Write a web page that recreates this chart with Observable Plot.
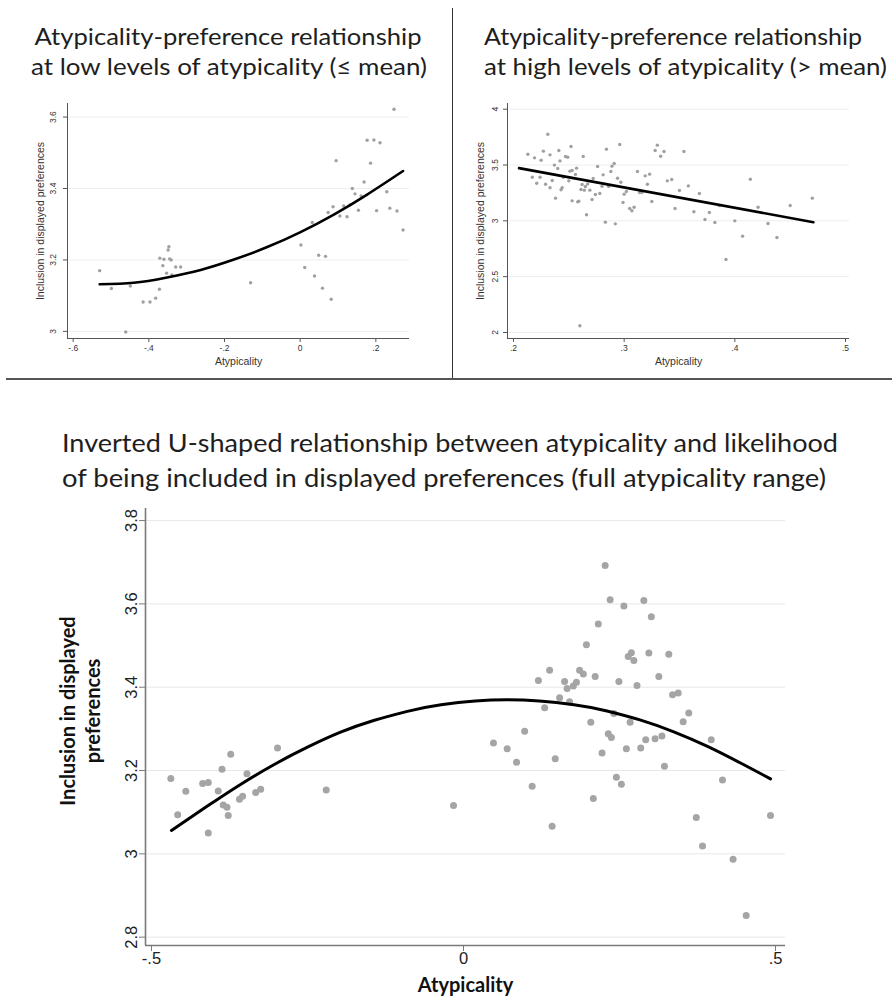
<!DOCTYPE html>
<html><head><meta charset="utf-8">
<script src="https://cdn.jsdelivr.net/npm/d3@7"></script>
<script src="https://cdn.jsdelivr.net/npm/@observablehq/plot@0.6"></script>
<style>
body{margin:0;background:#fff;}
#page{position:relative;width:892px;height:1002px;overflow:hidden;background:#fff;}
#page svg{position:absolute;}
</style></head><body><div id="page"></div>
<script>
// ---------- Panel 1: low atypicality (<= mean) ----------
const lowX = [-0.530,-0.499,-0.449,-0.461,-0.415,-0.397,-0.382,-0.372,-0.371,-0.363,-0.360,-0.353,-0.349,-0.347,-0.345,-0.341,-0.339,-0.329,-0.316,-0.131,0.002,0.012,0.032,0.038,0.049,0.059,0.067,0.074,0.082,0.087,0.095,0.105,0.115,0.124,0.131,0.138,0.145,0.154,0.161,0.169,0.177,0.186,0.195,0.202,0.211,0.229,0.237,0.248,0.256,0.272];
const lowY = [3.170,3.120,3.127,2.998,3.082,3.082,3.093,3.118,3.205,3.184,3.202,3.163,3.228,3.237,3.203,3.200,3.158,3.180,3.180,3.136,3.242,3.179,3.305,3.155,3.213,3.121,3.210,3.333,3.090,3.349,3.478,3.323,3.351,3.321,3.354,3.400,3.385,3.339,3.379,3.418,3.535,3.471,3.536,3.338,3.528,3.391,3.345,3.622,3.337,3.284];
const lowFitX = [-0.530,-0.440,-0.352,-0.263,-0.175,-0.087,0.001,0.089,0.177,0.272];
const lowFitY = [3.132,3.136,3.151,3.172,3.201,3.236,3.278,3.327,3.383,3.449];
const lowXTicks = [-0.6,-0.4,-0.2,0,0.2];
const lowXTickLabels = ["-.6","-.4","-.2","0",".2"];
const lowYTicks = [3,3.2,3.4,3.6];
const lowYTickLabels = ["3","3.2","3.4","3.6"];

// ---------- Panel 2: high atypicality (> mean) ----------
const highX = [0.213,0.217,0.219,0.221,0.224,0.225,0.227,0.229,0.231,0.233,0.233,0.235,0.237,0.238,0.240,0.241,0.242,0.243,0.244,0.245,0.247,0.249,0.250,0.251,0.252,0.253,0.253,0.256,0.257,0.258,0.259,0.260,0.261,0.262,0.263,0.264,0.265,0.266,0.267,0.269,0.271,0.272,0.274,0.276,0.278,0.280,0.281,0.283,0.284,0.286,0.288,0.289,0.291,0.292,0.294,0.296,0.297,0.299,0.300,0.302,0.305,0.307,0.309,0.312,0.314,0.316,0.319,0.321,0.323,0.325,0.328,0.330,0.333,0.336,0.339,0.343,0.346,0.350,0.354,0.358,0.363,0.368,0.373,0.377,0.382,0.386,0.392,0.400,0.407,0.414,0.421,0.430,0.438,0.450,0.470];
const highY = [3.597,3.391,3.564,3.337,3.391,3.543,3.624,3.328,3.776,3.591,3.296,3.361,3.499,3.203,3.469,3.630,3.537,3.278,3.296,3.391,3.576,3.570,3.358,3.445,3.666,3.179,3.451,3.415,3.472,3.170,3.176,2.060,3.281,3.325,3.576,3.275,3.307,3.054,3.331,3.275,3.191,3.379,3.236,3.487,3.245,3.310,3.412,2.988,3.642,3.307,3.442,3.490,3.513,2.973,3.382,3.684,3.346,3.164,3.239,3.263,3.110,3.090,3.122,3.442,3.254,3.254,3.403,3.328,3.418,3.173,3.630,3.678,3.579,3.621,3.358,3.370,3.110,3.272,3.621,3.313,3.081,3.245,3.012,3.075,2.985,3.137,2.654,3.000,2.863,3.373,3.122,2.976,2.851,3.137,3.203];
const highFitX = [0.205,0.471];
const highFitY = [3.472,2.988];
const highXTicks = [0.2,0.3,0.4,0.5];
const highXTickLabels = [".2",".3",".4",".5"];
const highYTicks = [2,2.5,3,3.5,4];
const highYTickLabels = ["2","2.5","3","3.5","4"];

// ---------- Panel 3: full range ----------
const fullX = [-0.469,-0.458,-0.445,-0.418,-0.409,-0.409,-0.393,-0.387,-0.385,-0.379,-0.377,-0.373,-0.359,-0.354,-0.347,-0.333,-0.325,-0.298,-0.220,-0.016,0.048,0.070,0.085,0.098,0.110,0.120,0.130,0.138,0.142,0.147,0.154,0.162,0.166,0.170,0.176,0.181,0.186,0.192,0.197,0.204,0.208,0.211,0.216,0.222,0.227,0.232,0.235,0.237,0.241,0.245,0.249,0.253,0.257,0.261,0.264,0.267,0.269,0.273,0.278,0.284,0.289,0.292,0.297,0.301,0.307,0.313,0.318,0.322,0.329,0.335,0.344,0.352,0.361,0.373,0.383,0.397,0.415,0.432,0.453,0.492];
const fullY = [3.181,3.094,3.150,3.169,3.171,3.050,3.151,3.203,3.117,3.112,3.092,3.239,3.131,3.138,3.192,3.147,3.155,3.254,3.153,3.116,3.266,3.252,3.220,3.294,3.162,3.416,3.351,3.441,3.066,3.228,3.375,3.414,3.397,3.365,3.403,3.412,3.441,3.432,3.502,3.316,3.133,3.426,3.552,3.242,3.692,3.288,3.610,3.279,3.337,3.184,3.414,3.167,3.595,3.252,3.474,3.316,3.483,3.464,3.404,3.254,3.608,3.274,3.482,3.569,3.276,3.426,3.283,3.210,3.479,3.382,3.386,3.317,3.338,3.087,3.019,3.274,3.177,2.987,2.852,3.092];
const fullFitX = [-0.468,-0.411,-0.358,-0.304,-0.250,-0.197,-0.144,-0.090,-0.036,0.070,0.177,0.230,0.284,0.337,0.391,0.444,0.492];
const fullFitY = [3.056,3.114,3.166,3.214,3.256,3.292,3.320,3.342,3.358,3.370,3.358,3.343,3.321,3.293,3.258,3.218,3.180];
const fullXTicks = [-0.5,0,0.5];
const fullXTickLabels = ["-.5","0",".5"];
const fullYTicks = [2.8,3,3.2,3.4,3.6,3.8];
const fullYTickLabels = ["2.8","3","3.2","3.4","3.6","3.8"];

// ---------- Texts ----------
const xAxisTitle = "Atypicality";
const yAxisTitle = "Inclusion in displayed preferences";
const yAxisTitleFull = "Inclusion in displayed\npreferences";
const titleLow = ["Atypicality-preference relationship", "at low levels of atypicality (\u2264 mean)"];
const titleHigh = ["Atypicality-preference relationship", "at high levels of atypicality (> mean)"];
const titleFull = ["Inverted U-shaped relationship between atypicality and likelihood", "of being included in displayed preferences (full atypicality range)"];

function makePanel(o) {
  const pts = o.xs.map((x, i) => ({x, y: o.ys[i]}));
  const fit = o.fx.map((x, i) => ({x, y: o.fy[i]}));
  const xl = new Map(o.xTicks.map((t, i) => [t, o.xTickLabels[i]]));
  const yl = new Map(o.yTicks.map((t, i) => [t, o.yTickLabels[i]]));
  const svg = Plot.plot({
    width: o.width, height: o.height,
    marginLeft: o.mL, marginRight: o.mR, marginTop: o.mT, marginBottom: o.mB,
    x: {domain: o.xDomain}, y: {domain: o.yDomain},
    style: {fontFamily: "'Liberation Sans', Arial, sans-serif", background: "transparent", overflow: "visible"},
    marks: [
      Plot.gridY(o.yTicks, {stroke: o.gridColor, strokeOpacity: 1, strokeWidth: 1}),
      Plot.dot(pts, {x: "x", y: "y", r: o.r, fill: o.dotColor}),
      Plot.line(fit, {x: "x", y: "y", curve: o.curve, stroke: "#000", strokeWidth: o.fitWidth}),
      Plot.ruleX([o.xDomain[0]], {stroke: o.axisColor, strokeWidth: o.axisWidth}),
      Plot.ruleY([o.yDomain[0]], {stroke: o.axisColor, strokeWidth: o.axisWidth}),
      Plot.axisX({ticks: o.xTicks, tickFormat: d => xl.get(d), tickSize: o.tickLen, tickPadding: o.xTickPad,
        fontSize: o.tickFont, stroke: o.axisColor, fill: o.tickColor, label: null}),
      Plot.axisY({ticks: o.yTicks, tickFormat: () => "", tickSize: o.tickLen, stroke: o.axisColor, label: null}),
      Plot.text(o.yTicks, {y: d => d, frameAnchor: "left", text: d => yl.get(d), rotate: -90, dx: o.yTickDx,
        textAnchor: "middle", lineAnchor: "middle", fontSize: o.tickFont, fill: o.tickColor}),
      Plot.text([o.xTitle], {frameAnchor: "bottom", text: d => d, dy: o.xTitleDy, lineAnchor: "middle",
        fontSize: o.titleFont, fontWeight: o.titleWeight, fontFamily: o.titleFamily, fill: o.titleColor}),
      Plot.text([o.yTitle], {frameAnchor: "left", text: d => d, dx: o.yTitleDx, dy: o.yTitleDy, rotate: -90,
        textAnchor: "middle", lineAnchor: "middle", lineHeight: o.yTitleLH,
        fontSize: o.titleFont, fontWeight: o.titleWeight, fontFamily: o.titleFamily, fill: o.titleColor})
    ]
  });
  svg.style.left = o.left + "px";
  svg.style.top = o.top + "px";
  return svg;
}

const page = document.getElementById("page");
const smallCommon = {
  width: 450, height: 290, mT: 13, mB: 42, r: 1.7, dotColor: "#a0a0a0", fitWidth: 2.6, curve: "natural",
  gridColor: "#eeeeee", axisColor: "#555", axisWidth: 1, tickLen: 4, xTickPad: 2, tickFont: 8.5, tickColor: "#333",
  xTitle: xAxisTitle, yTitle: yAxisTitle, titleFont: 10.5, titleWeight: "normal",
  titleFamily: "'Liberation Sans', Arial, sans-serif", titleColor: "#333",
  xTitleDy: 23, yTitleDx: -27, yTitleDy: 0, yTitleLH: 1
};
page.appendChild(makePanel({...smallCommon, left: 0, top: 90, mL: 67, mR: 41,
  xs: lowX, ys: lowY, fx: lowFitX, fy: lowFitY, xDomain: [-0.615, 0.289], yDomain: [2.98, 3.638],
  xTicks: lowXTicks, xTickLabels: lowXTickLabels, yTicks: lowYTicks, yTickLabels: lowYTickLabels, yTickDx: -14}));
page.appendChild(makePanel({...smallCommon, left: 452, top: 90, width: 440, mL: 55, mR: 43, curve: "linear",
  xs: highX, ys: highY, fx: highFitX, fy: highFitY, xDomain: [0.1946, 0.5036], yDomain: [1.946, 4.051],
  xTicks: highXTicks, xTickLabels: highXTickLabels, yTicks: highYTicks, yTickLabels: highYTickLabels, yTickDx: -12}));
page.appendChild(makePanel({left: 0, top: 490, width: 892, height: 512, mL: 145, mR: 107, mT: 18, mB: 57,
  xs: fullX, ys: fullY, fx: fullFitX, fy: fullFitY, xDomain: [-0.5096, 0.516], yDomain: [2.780, 3.829],
  xTicks: fullXTicks, xTickLabels: fullXTickLabels, yTicks: fullYTicks, yTickLabels: fullYTickLabels,
  r: 3.5, dotColor: "#a5a5a5", fitWidth: 3, curve: "natural", gridColor: "#e8e8e8", axisColor: "#7a7a7a", axisWidth: 1.6,
  tickLen: 6, xTickPad: 1, tickFont: 16.5, tickColor: "#222", yTickDx: -14,
  xTitle: xAxisTitle, yTitle: yAxisTitleFull, titleFont: 20, titleWeight: "bold",
  titleFamily: "Lato, 'Open Sans', sans-serif", titleColor: "#111", xTitleDy: 40, yTitleDx: -66, yTitleDy: -16, yTitleLH: 1.25}));

// ---------- overlay: titles and separators ----------
const ov = d3.select(page).append("svg").attr("width", 892).attr("height", 1002)
  .style("left", "0px").style("top", "0px").style("pointer-events", "none");
ov.append("line").attr("x1", 452.5).attr("x2", 452.5).attr("y1", 8).attr("y2", 379).attr("stroke", "#333").attr("stroke-width", 1);
ov.append("line").attr("x1", 6).attr("x2", 892).attr("y1", 379).attr("y2", 379).attr("stroke", "#555").attr("stroke-width", 2);

function title(text, x, y, anchor, width, size) {
  ov.append("text").attr("x", x).attr("y", y).attr("text-anchor", anchor)
    .attr("textLength", width).attr("lengthAdjust", "spacingAndGlyphs")
    .style("font-family", "Lato, Roboto, sans-serif").style("font-size", size + "px").style("fill", "#1e1e1e")
    .text(text);
}
title(titleLow[0], 228, 45, "middle", 387, 24);
title(titleLow[1], 229, 75, "middle", 396, 24);
title(titleHigh[0], 484, 45, "start", 378, 24);
title(titleHigh[1], 484, 75, "start", 403, 24);
title(titleFull[0], 450, 452, "middle", 776, 25.5);
title(titleFull[1], 444, 487, "middle", 764, 25.5);
</script></body></html>
